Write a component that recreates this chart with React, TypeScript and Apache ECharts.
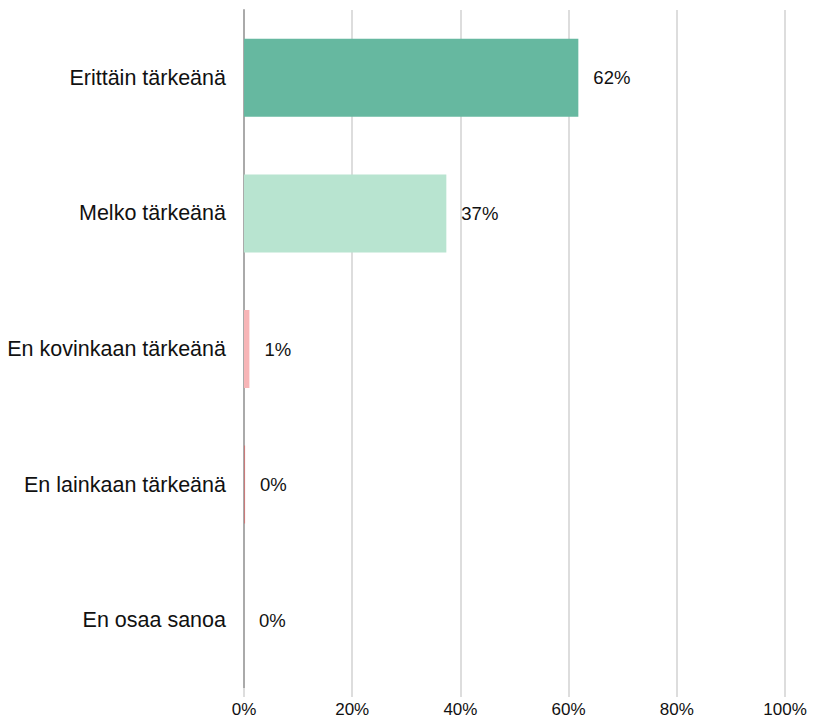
import React, { useEffect, useRef } from "react";
import * as echarts from "echarts";

const categories = [
  "Erittäin tärkeänä",
  "Melko tärkeänä",
  "En kovinkaan tärkeänä",
  "En lainkaan tärkeänä",
  "En osaa sanoa",
];
const values = [61.8, 37.4, 1.0, 0.2, 0];
const barColors = ["#66b8a0", "#b8e4d0", "#f7b5b7", "#c97a7a", "#cccccc"];
const xTicks = [0, 20, 40, 60, 80, 100];

export default function App() {
  const ref = useRef<HTMLDivElement>(null);
  useEffect(() => {
    if (!ref.current) return;
    const chart = echarts.init(ref.current, undefined, { renderer: "svg" });
    const font = "'Liberation Sans', Arial, sans-serif";
    chart.setOption({
      animation: false,
      grid: { left: 244, right: 28, top: 10, bottom: 30, containLabel: false },
      xAxis: {
        type: "value",
        min: 0,
        max: 100,
        interval: 20,
        axisLine: { show: false },
        axisTick: { show: true, length: 9, lineStyle: { color: "#dddddd", width: 2 } },
        splitLine: { show: true, lineStyle: { color: "#dddddd", width: 2 } },
        axisLabel: {
          formatter: (v: number) => (xTicks.includes(v) ? v + "%" : ""),
          color: "#111",
          fontSize: 17,
          fontFamily: font,
          margin: 13,
        },
      },
      yAxis: {
        type: "category",
        inverse: true,
        data: categories,
        axisLine: { show: true, lineStyle: { color: "#aaaaaa", width: 2 } },
        axisTick: { show: false },
        axisLabel: { color: "#111", fontSize: 21.5, fontFamily: font, margin: 18 },
      },
      series: [
        {
          type: "bar",
          barWidth: 78,
          data: values.map((v, i) => ({ value: v, itemStyle: { color: barColors[i] } })),
          label: {
            show: true,
            position: "right",
            distance: 15,
            color: "#111",
            fontSize: 18.5,
            fontFamily: font,
            formatter: (p: any) => Math.round(p.value) + "%",
          },
        },
      ],
    });
    return () => chart.dispose();
  }, []);
  return (
    <div
      ref={ref}
      style={{ position: "fixed", left: 0, top: 0, width: 813, height: 718, background: "#fff" }}
    />
  );
}
